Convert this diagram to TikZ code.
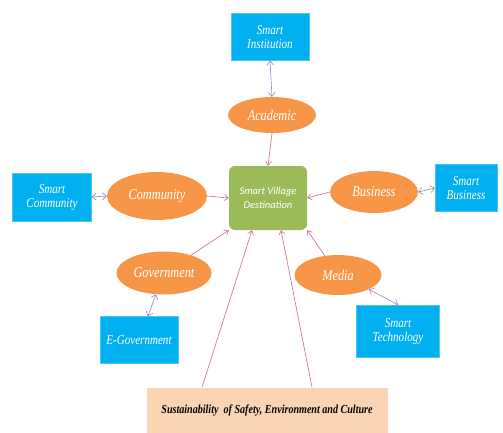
\documentclass[tikz,border=0pt]{standalone}
\usepackage{fontspec}
\setmainfont{Liberation Serif}
\newfontfamily\boxfont[FakeStretch=0.82]{Liberation Serif}
\newfontfamily\svfont{Carlito}
\usetikzlibrary{arrows.meta,shapes.geometric}

\definecolor{smartblue}{RGB}{0,176,240}
\definecolor{fieldorange}{RGB}{247,150,70}
\definecolor{villagegreen}{RGB}{155,187,89}
\definecolor{sustpeach}{RGB}{251,212,180}
\definecolor{linkred}{RGB}{200,110,125}
\definecolor{linkpurple}{RGB}{150,130,200}

\tikzset{
  smartbox/.style={rectangle, fill=smartblue, draw=smartblue!70!white, text=white,
    align=center, inner sep=2pt, font=\boxfont\itshape\fontsize{13.5}{14}\selectfont},
  field/.style={ellipse, fill=fieldorange, text=white, inner sep=0pt,
    font=\boxfont\itshape\fontsize{15}{16}\selectfont},
  feed/.style={draw=linkred, line width=0.6pt, -{Straight Barb[length=4pt,width=6pt]}},
  link/.style={draw=linkpurple, line width=0.6pt,
    {Straight Barb[length=4pt,width=7pt]}-{Straight Barb[length=4pt,width=7pt]}}
}

\begin{document}
\begin{tikzpicture}[x=1pt,y=-1pt]
  \useasboundingbox (0,0) rectangle (503,432);

  % centre
  \node [rectangle, rounded corners=6pt, fill=villagegreen, text=white, align=center,
    font=\svfont\itshape\fontsize{10.5}{14}\selectfont,
    minimum width=78pt, minimum height=64pt] (sv) at (268,198)
    {Smart Village\\Destination};

  % fields
  \node [field, minimum width=88pt, minimum height=36pt] (acad) at (272,115) {Academic};
  \node [field, minimum width=100pt, minimum height=48pt] (comm) at (157,196) {Community};
  \node [field, minimum width=88pt, minimum height=42pt] (bus) at (374,192) {Business};
  \node [field, minimum width=95pt, minimum height=43pt] (gov) at (164,273) {Government};
  \node [field, minimum width=87pt, minimum height=40pt] (media) at (338,275) {Media};

  % smart boxes
  \node [smartbox, minimum width=78pt, minimum height=47pt] (inst) at (270,37) {Smart\\Institution};
  \node [smartbox, minimum width=79pt, minimum height=48pt] (scomm) at (52,197) {Smart\\Community};
  \node [smartbox, minimum width=62pt, minimum height=47pt] (sbus) at (466,188) {Smart\\Business};
  \node [smartbox, minimum width=78pt, minimum height=47pt] (egov) at (139,340) {E-Government};
  \node [smartbox, minimum width=83pt, minimum height=52pt] (stech) at (398,331) {Smart\\Technology};

  % base
  \node [rectangle, fill=sustpeach, minimum width=241pt, minimum height=45pt,
    font=\boxfont\itshape\bfseries\fontsize{12.3}{13}\selectfont] (sust) at (267,410)
    {Sustainability\ \ of Safety, Environment and Culture};

  % links
  \draw [link] (inst.south) -- (acad.north);
  \draw [link] (scomm.east) -- (comm.west);
  \draw [link] (bus.east) -- (sbus.west);
  \draw [link] (gov) -- (egov);
  \draw [link] (media.south east) -- (stech.north);

  \draw [feed] (acad.south) -- (sv.north);
  \draw [feed] (comm.east) -- (sv.west);
  \draw [feed] (bus.west) -- (sv.east);
  \draw [feed] (gov) -- (sv.south west);
  \draw [feed] (media) -- (sv.south east);
  \draw [feed] ([xshift=-65pt]sust.north) -- ([xshift=-16pt]sv.south);
  \draw [feed] ([xshift=45pt]sust.north) -- ([xshift=13pt]sv.south);
\end{tikzpicture}
\end{document}
